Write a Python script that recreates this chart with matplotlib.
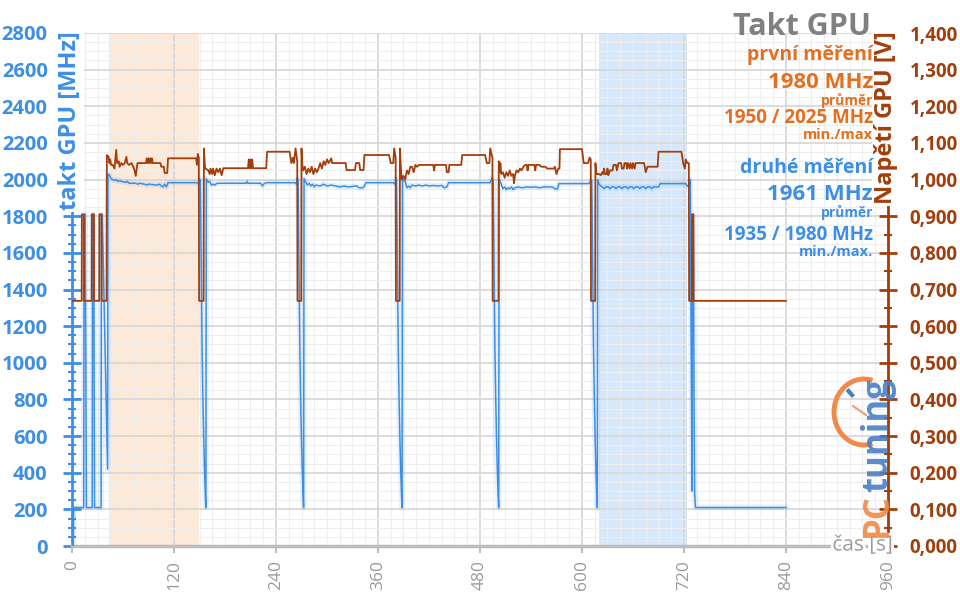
import matplotlib
matplotlib.use('Agg')
import matplotlib.pyplot as plt
import matplotlib.patheffects as pe
from matplotlib.patches import Arc
from matplotlib.lines import Line2D
from matplotlib.ticker import MultipleLocator
import numpy as np

plt.rcParams['font.family'] = ['Open Sans', 'DejaVu Sans']

# DATA

# GPU voltage [V] over time [s]
volt_time = [0, 11.4, 11.6, 14.0, 14.2, 23.1, 23.3, 25.8, 26.0, 32.0, 32.2, 34.8, 35.0,
             40.7, 41, 43, 44, 45, 46, 48, 50, 52, 53, 55, 56, 58, 60, 62, 64, 65, 67, 70,
             73, 75, 77, 87, 88, 89, 90, 91, 92, 93, 94, 95, 104, 105, 108, 109, 112, 113,
             146, 147, 148, 149.2, 149.5, 154.8, 155.2, 156.5,
             157, 160, 162, 163, 165, 166, 168, 170, 172, 174, 176, 178, 207, 208, 209, 210,
             211, 212, 213, 228.5, 229.5, 256, 258, 260, 261, 263, 265, 265.3, 269.7, 270,
             271, 272, 274, 276, 278, 280, 282, 284, 286, 288, 290, 292, 294, 296, 298, 300,
             302, 305, 306, 322, 323, 333, 334, 338, 339, 343, 344, 373, 375, 378, 379,
             380.8, 381.1, 385.5, 385.8,
             387, 388, 390, 392, 394, 396, 398, 400, 402, 404, 406, 408, 425, 426, 427, 440,
             441, 443, 444, 458, 459, 486, 488, 491, 492, 494.6, 494.9, 501.8, 502.1,
             503, 504, 505, 507, 509, 511, 513, 515, 517, 519, 520, 521, 523, 525, 527, 529,
             531, 533, 535, 536, 537, 544, 545, 546, 550, 552, 557, 559, 567, 568, 570, 572,
             573.5, 574, 600, 602, 607, 609, 610.3, 610.6, 615.5, 615.8,
             617, 620, 622, 624, 625, 626, 627, 629, 630, 631, 633, 636, 637, 640, 641, 643,
             646, 647, 649, 650, 652, 653, 654, 656, 657, 659, 660, 662, 663, 673, 675, 677,
             689, 690, 717, 719, 721, 722, 724, 725.7, 726, 729.2, 729.5, 731, 731.3, 840]
volt = [0.669, 0.669, 0.905, 0.905, 0.669, 0.669, 0.905, 0.905, 0.669, 0.669, 0.905, 0.905, 0.669,
        0.669, 1.067, 1.062, 1.045, 1.055, 1.040, 1.040, 1.030, 1.081, 1.045, 1.050, 1.035, 1.045,
        1.040, 1.045, 1.062, 1.045, 1.040, 1.045, 1.030, 1.010, 1.045, 1.045, 1.058, 1.045, 1.058,
        1.045, 1.058, 1.045, 1.058, 1.045, 1.045, 1.035, 1.035, 1.018, 1.018, 1.058,
        1.058, 1.040, 1.070, 1.060, 0.669, 0.669, 1.085, 1.030,
        1.030, 1.026, 1.015, 1.030, 1.015, 1.030, 1.012, 1.030, 1.020, 1.030, 1.012, 1.031, 1.031,
        1.055, 1.031, 1.055, 1.031, 1.055, 1.031, 1.031, 1.076, 1.076, 1.045, 1.060, 1.045, 1.085,
        1.050, 0.669, 0.669, 1.085,
        1.040, 1.025, 1.035, 1.015, 1.030, 1.020, 1.035, 1.015, 1.030, 1.020, 1.030, 1.045, 1.030,
        1.050, 1.040, 1.055, 1.045, 1.058, 1.045, 1.045, 1.026, 1.026, 1.045, 1.045, 1.026, 1.026,
        1.067, 1.067, 1.045, 1.045, 1.085, 1.060, 0.669, 0.669, 1.085,
        1.030, 1.000, 1.010, 1.000, 1.025, 1.015, 1.035, 1.035, 1.020, 1.040, 1.035, 1.040, 1.040,
        1.025, 1.040, 1.040, 1.020, 1.020, 1.040, 1.040, 1.067, 1.067, 1.045, 1.045, 1.085, 1.060,
        0.669, 0.669, 1.050,
        1.020, 1.045, 1.015, 1.020, 1.005, 1.020, 1.010, 1.025, 1.010, 1.015, 0.990, 1.010, 1.025,
        1.020, 1.030, 1.025, 1.035, 1.040, 1.040, 1.025, 1.040, 1.040, 1.025, 1.040, 1.040, 1.035,
        1.035, 1.030, 1.030, 1.035, 1.015, 1.030, 1.030, 1.083, 1.083, 1.045, 1.045, 1.060, 1.055,
        0.669, 0.669, 1.045,
        1.015, 1.015, 1.012, 1.020, 1.015, 1.030, 1.015, 1.015, 1.030, 1.012, 1.025, 1.025, 1.040,
        1.040, 1.025, 1.045, 1.045, 1.030, 1.030, 1.045, 1.045, 1.030, 1.045, 1.030, 1.045, 1.030,
        1.045, 1.030, 1.045, 1.045, 1.020, 1.035, 1.035, 1.076, 1.076, 1.045, 1.030, 1.055, 1.045,
        1.045, 0.669, 0.669, 0.905, 0.905, 0.669, 0.669]

# GPU clock [MHz] over time [s]
clock_time = [0, 1.5, 2, 13.8, 14.2, 15.5, 17, 23.8, 24.2, 25.5, 26.5, 34.2, 34.6, 35.6, 41.9,
              42.3, 44, 46, 48, 50, 52, 54, 56, 58, 63, 65, 67, 75, 77, 80, 85, 88, 90, 100,
              103, 105, 107, 109, 111, 113, 148, 149, 150, 151,
              152, 153, 154, 155, 156, 157, 157.5, 158,
              160, 162, 164, 166, 168, 170, 172, 205, 206, 207, 222, 224, 226, 229, 262, 264,
              265, 266, 267, 268, 269, 270, 271, 272, 272.5, 273,
              275, 277, 279, 281, 283, 285, 287, 292, 296, 300, 305, 310, 315, 320, 325, 335,
              338, 342, 344, 346, 378, 380, 381, 381.8,
              382.8, 383.8, 384.8, 385.8, 386.8, 387.8, 388.3, 388.8,
              390, 392, 394, 396, 398, 400, 404, 408, 412, 416, 420, 425, 430, 435, 438, 441,
              443, 492, 494, 495.5, 496.5, 497.5, 498.5, 499.5, 500.5, 501.5, 502, 502.5,
              505, 507, 509, 511, 513, 515, 517, 519, 521, 525, 530, 535, 540, 545, 550, 555,
              565, 568, 571, 573, 608, 610, 611.5,
              612.5, 613.5, 614.5, 615.5, 616.5, 617.5, 618, 618.5,
              620, 622, 624, 626, 628, 631, 633, 635, 638, 640, 642, 645, 647, 649, 652, 654,
              656, 659, 661, 663, 666, 668, 670, 673, 675, 677, 680, 682, 684, 690, 692, 722,
              724, 726, 727, 727.5, 728.3, 729, 729.5, 729.8, 731, 731.8, 732.5, 733.5, 840]
clock = [0, 0, 210, 210, 1810, 1810, 210, 210, 1810, 1810, 210, 210, 1810, 1810, 420,
         2030, 2025, 2005, 2000, 1995, 2000, 1990, 1995, 1990, 1985, 1990, 1980, 1980, 1975,
         1980, 1975, 1970, 1975, 1970, 1975, 1965, 1960, 1975, 1960, 1983, 1983, 1975, 2005, 1995,
         1550, 1100, 800, 580, 400, 260, 210, 2005,
         1985, 1990, 1970, 1975, 1970, 1978, 1980, 1980, 1990, 1980, 1980, 1965, 1978, 1983,
         1983, 1975, 2010, 1995, 1550, 1100, 800, 580, 400, 260, 210, 2005,
         1985, 1970, 1980, 1965, 1975, 1960, 1970, 1965, 1975, 1965, 1970, 1965, 1960, 1965,
         1960, 1965, 1955, 1955, 1965, 1983, 1983, 1975, 2010, 1995,
         1550, 1100, 800, 580, 400, 260, 210, 2005,
         1995, 1990, 1955, 1965, 1955, 1970, 1965, 1970, 1965, 1970, 1965, 1968, 1965, 1968,
         1955, 1960, 1983, 1983, 2010, 1995, 1550, 1100, 800, 580, 400, 260, 210, 2005,
         1975, 1950, 1960, 1945, 1955, 1950, 1960, 1945, 1955, 1960, 1955, 1960, 1958, 1960,
         1955, 1960, 1960, 1950, 1948, 1978, 1978, 1990, 1995,
         1550, 1100, 800, 580, 400, 260, 210, 2000,
         1975, 1965, 1960, 1950, 1960, 1960, 1950, 1960, 1960, 1950, 1960, 1960, 1950, 1960,
         1960, 1950, 1960, 1960, 1950, 1960, 1960, 1950, 1960, 1960, 1950, 1960, 1960, 1950,
         1960, 1960, 1978, 1978, 1965, 1960, 2000, 1990, 1200, 700, 300, 1810, 1810, 800, 290,
         210, 210]

# highlighted measurement windows [s]
first_window = (43, 149)
second_window = (620, 723)

clock_ticks = list(range(0, 2801, 200))
volt_ticks = [i / 10 for i in range(15)]
time_ticks = list(range(0, 961, 120))

BLUE = '#3d8fe6'
BROWN = '#a23e0c'
ORANGE = '#e4701f'
GREY = '#9a9a9a'

fig = plt.figure(figsize=(9.6, 6.05), dpi=100)
ax = fig.add_axes([72 / 960, 1 - 546 / 605, 816 / 960, 513 / 605])
ax2 = ax.twinx()

ax.axvspan(*first_window, color='#fde9d8', lw=0, zorder=0.2)
ax.axvspan(*second_window, color='#d7e8fb', lw=0, zorder=0.2)

ax.plot(clock_time, clock, color=BLUE, lw=1.1, zorder=3,
        path_effects=[pe.Stroke(linewidth=4, foreground=BLUE, alpha=0.12), pe.Normal()])
ax2.plot(volt_time, volt, color=BROWN, lw=1.3, zorder=3)

# axes ranges and grid
ax.set_xlim(0, 960)
ax.set_ylim(0, 2800)
ax2.set_ylim(0, 1.4)
ax.set_axisbelow(True)
ax.xaxis.set_minor_locator(MultipleLocator(15))
ax.yaxis.set_minor_locator(MultipleLocator(50))
ax2.yaxis.set_minor_locator(MultipleLocator(0.05))
ax.grid(which='major', color='#d9d9d9', lw=1.3)
ax.grid(which='minor', color='#eeeeee', lw=0.8)

ax.set_yticks(clock_ticks)
ax.set_yticklabels([str(v) for v in clock_ticks], fontweight='bold')
ax2.set_yticks(volt_ticks)
ax2.set_yticklabels([f'{v:.3f}'.replace('.', ',') for v in volt_ticks], fontweight='bold')
ax.set_xticks(time_ticks)
ax.set_xticklabels([str(v) for v in time_ticks], rotation=90)

ax.tick_params(axis='y', which='major', direction='inout', length=13, width=2,
               color=BLUE, labelcolor=BLUE, labelsize=14.5, pad=11)
ax.tick_params(axis='y', which='minor', direction='inout', length=6, width=1.5, color=BLUE)
ax2.tick_params(axis='y', which='major', direction='inout', length=13, width=2,
                color=BROWN, labelcolor=BROWN, labelsize=13.5, pad=9)
ax2.tick_params(axis='y', which='minor', direction='inout', length=6, width=1.5, color=BROWN)
ax.tick_params(axis='x', which='major', direction='out', length=5, width=1.5,
               color='#bdbdbd', labelcolor=GREY, labelsize=12.5, pad=5)
ax.tick_params(axis='x', which='minor', length=0)

for a in (ax, ax2):
    a.spines['top'].set_visible(False)
ax.spines['right'].set_visible(False)
ax2.spines['left'].set_visible(False)
ax2.spines['bottom'].set_visible(False)
ax.spines['left'].set_color(BLUE)
ax.spines['left'].set_linewidth(2)
ax2.spines['right'].set_color(BROWN)
ax2.spines['right'].set_linewidth(2)
ax.spines['bottom'].set_color('#bdbdbd')
ax.spines['bottom'].set_linewidth(2.5)

halo = [pe.Stroke(linewidth=4, foreground='white'), pe.Normal()]
white_box = dict(facecolor='white', edgecolor='none', pad=1.5)

def px(x, y):
    return x / 960, 1 - y / 605

fig.text(*px(70, 31), 'takt GPU [MHz]', rotation=90, ha='center', va='top',
         color=BLUE, fontsize=17, fontweight='bold', bbox=white_box)
fig.text(*px(886, 31), 'Napětí GPU [V]', rotation=90, ha='center', va='top',
         color=BROWN, fontsize=17, fontweight='bold', bbox=white_box)

fig.text(*px(893, 545), 'čas [s]', ha='right', va='center', color=GREY,
         fontsize=15, path_effects=halo, zorder=3)

# PCtuning logo
fig.text(*px(878, 537), 'PC', rotation=90, ha='center', va='bottom', color='#f0894a',
         fontsize=25, fontweight='bold', alpha=0.9, zorder=4)
fig.text(*px(878, 492), 'tuning', rotation=90, ha='center', va='bottom', color='#4a7fc4',
         fontsize=25, fontweight='bold', alpha=0.9, zorder=4)
inch = fig.dpi_scale_trans
fig.add_artist(Arc((8.64, 1.93), 0.6, 0.66, theta1=75, theta2=285, color='#f0894a',
                   lw=3.5, transform=inch))
fig.add_artist(Line2D([8.53, 8.66], [1.99, 1.90], color='#e8a07a', lw=1.5, transform=inch))
fig.add_artist(Line2D([8.485, 8.52], [2.14, 2.10], color='#4a7fc4', lw=3, transform=inch))

# title and summary
right = 873
fig.text(*px(871, 27), 'Takt GPU', ha='right', va='center', color='#808080',
         fontsize=22, fontweight='bold')
fig.text(*px(right, 55), 'první měření', ha='right', va='center', color=ORANGE,
         fontsize=14, fontweight='bold')
fig.text(*px(right, 82), '1980 MHz', ha='right', va='center', color=ORANGE,
         fontsize=16, fontweight='bold')
fig.text(*px(right, 100), 'průměr', ha='right', va='center', color=ORANGE,
         fontsize=10, fontweight='bold')
fig.text(*px(right, 118), '1950 / 2025 MHz', ha='right', va='center', color=ORANGE,
         fontsize=13.5, fontweight='bold')
fig.text(*px(right, 135), 'min./max', ha='right', va='center', color=ORANGE,
         fontsize=10.5, fontweight='bold')
fig.text(*px(right, 168), 'druhé měření', ha='right', va='center', color=BLUE,
         fontsize=14, fontweight='bold')
fig.text(*px(right, 194), '1961 MHz', ha='right', va='center', color=BLUE,
         fontsize=16, fontweight='bold')
fig.text(*px(right, 212), 'průměr', ha='right', va='center', color=BLUE,
         fontsize=10, fontweight='bold')
fig.text(*px(right, 235), '1935 / 1980 MHz', ha='right', va='center', color=BLUE,
         fontsize=13.5, fontweight='bold')
fig.text(*px(right, 252), 'min./max.', ha='right', va='center', color=BLUE,
         fontsize=10.5, fontweight='bold')

fig.savefig('out.png', dpi=100)
